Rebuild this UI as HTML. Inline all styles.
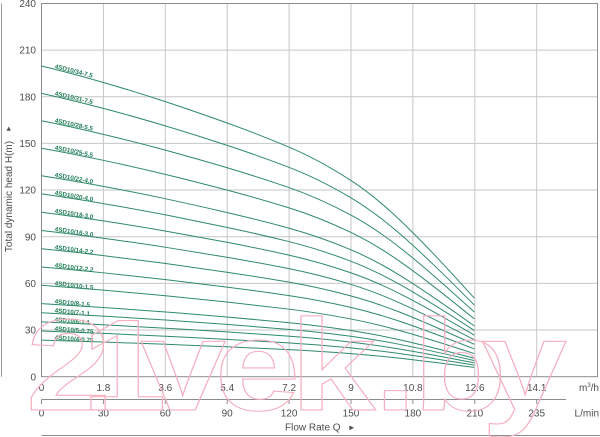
<!DOCTYPE html>
<html>
<head>
<meta charset="utf-8">
<style>
html,body{margin:0;padding:0;background:#fff;}
svg{display:block;}
.t{font-family:"Liberation Sans",sans-serif;font-size:10px;fill:#4d4d4d;}
.lb{font-family:"Liberation Sans",sans-serif;font-size:6.3px;font-weight:bold;fill:#1f7d55;}
</style>
</head>
<body>
<svg width="600" height="437" viewBox="0 0 600 437" xmlns="http://www.w3.org/2000/svg">
<rect width="600" height="437" fill="#fff"/>

<!-- grid -->
<g stroke="#c6c6c6" stroke-width="1" fill="none">
<line x1="103.4" y1="3.5" x2="103.4" y2="376.7"/>
<line x1="165.3" y1="3.5" x2="165.3" y2="376.7"/>
<line x1="227.2" y1="3.5" x2="227.2" y2="376.7"/>
<line x1="289.1" y1="3.5" x2="289.1" y2="376.7"/>
<line x1="351" y1="3.5" x2="351" y2="376.7"/>
<line x1="412.9" y1="3.5" x2="412.9" y2="376.7"/>
<line x1="474.8" y1="3.5" x2="474.8" y2="376.7"/>
<line x1="536.7" y1="3.5" x2="536.7" y2="376.7"/>
<line x1="41.5" y1="330.04" x2="597.5" y2="330.04"/>
<line x1="41.5" y1="283.38" x2="597.5" y2="283.38"/>
<line x1="41.5" y1="236.72" x2="597.5" y2="236.72"/>
<line x1="41.5" y1="190.06" x2="597.5" y2="190.06"/>
<line x1="41.5" y1="143.4" x2="597.5" y2="143.4"/>
<line x1="41.5" y1="96.74" x2="597.5" y2="96.74"/>
<line x1="41.5" y1="50.08" x2="597.5" y2="50.08"/>
</g>
<rect x="41.5" y="3.5" width="556" height="373.2" fill="none" stroke="#8c8c8c" stroke-width="1"/>

<!-- curves -->
<g fill="none" stroke="#2f8a6c" stroke-width="1">
<path d="M41.5,66 C62.1,70.94 82.7,76.5 103.3,82.47 C124.1,88.49 144.9,94.86 165.7,101.73 C186.07,108.44 206.43,115.53 226.8,122.86 C247.3,130.25 267.8,138.18 288.3,146.78 C309.1,155.51 329.9,166.82 350.7,180.34 C367.13,191.03 383.57,204.51 400,220.11 C424.77,243.63 449.53,270.84 474.3,298.09"/>
<path d="M41.5,93.4 C62.1,97.9 82.7,102.98 103.3,108.41 C124.1,113.91 144.9,119.72 165.7,125.98 C186.07,132.1 206.43,138.56 226.8,145.24 C247.3,151.99 267.8,159.21 288.3,167.06 C309.1,175.02 329.9,185.33 350.7,197.65 C367.13,207.4 383.57,219.7 400,233.92 C424.77,255.36 449.53,280.18 474.3,305.03"/>
<path d="M41.5,120.8 C62.1,124.87 82.7,129.45 103.3,134.36 C124.1,139.33 144.9,144.57 165.7,150.23 C186.07,155.76 206.43,161.59 226.8,167.63 C247.3,173.72 267.8,180.25 288.3,187.33 C309.1,194.52 329.9,203.84 350.7,214.97 C367.13,223.77 383.57,234.88 400,247.73 C424.77,267.1 449.53,289.52 474.3,311.96"/>
<path d="M41.5,148.2 C62.1,151.83 82.7,155.92 103.3,160.31 C124.1,164.74 144.9,169.43 165.7,174.48 C186.07,179.41 206.43,184.62 226.8,190.02 C247.3,195.45 267.8,201.28 288.3,207.61 C309.1,214.03 329.9,222.35 350.7,232.29 C367.13,240.15 383.57,250.07 400,261.54 C424.77,278.83 449.53,298.85 474.3,318.89"/>
<path d="M41.5,175.7 C62.1,178.9 82.7,182.49 103.3,186.35 C124.1,190.25 144.9,194.37 165.7,198.81 C186.07,203.16 206.43,207.74 226.8,212.48 C247.3,217.27 267.8,222.39 288.3,227.96 C309.1,233.61 329.9,240.92 350.7,249.67 C367.13,256.58 383.57,265.31 400,275.4 C424.77,290.61 449.53,308.22 474.3,325.85"/>
<path d="M41.5,193.9 C62.1,196.81 82.7,200.08 103.3,203.59 C124.1,207.13 144.9,210.88 165.7,214.92 C186.07,218.87 206.43,223.04 226.8,227.35 C247.3,231.7 267.8,236.36 288.3,241.43 C309.1,246.56 329.9,253.22 350.7,261.17 C367.13,267.46 383.57,275.39 400,284.57 C424.77,298.41 449.53,314.42 474.3,330.45"/>
<path d="M41.5,212.2 C62.1,214.82 82.7,217.76 103.3,220.92 C124.1,224.11 144.9,227.48 165.7,231.12 C186.07,234.67 206.43,238.42 226.8,242.3 C247.3,246.22 267.8,250.41 288.3,254.97 C309.1,259.59 329.9,265.58 350.7,272.74 C367.13,278.39 383.57,285.53 400,293.79 C424.77,306.24 449.53,320.65 474.3,335.08"/>
<path d="M41.5,230.5 C62.1,232.82 82.7,235.44 103.3,238.25 C124.1,241.09 144.9,244.08 165.7,247.31 C186.07,250.47 206.43,253.8 226.8,257.25 C247.3,260.73 267.8,264.46 288.3,268.51 C309.1,272.62 329.9,277.94 350.7,284.3 C367.13,289.33 383.57,295.68 400,303.02 C424.77,314.08 449.53,326.89 474.3,339.71"/>
<path d="M41.5,248.8 C62.1,250.83 82.7,253.12 103.3,255.58 C124.1,258.06 144.9,260.68 165.7,263.51 C186.07,266.27 206.43,269.19 226.8,272.21 C247.3,275.25 267.8,278.51 288.3,282.05 C309.1,285.65 329.9,290.3 350.7,295.87 C367.13,300.27 383.57,305.82 400,312.24 C424.77,321.92 449.53,333.12 474.3,344.34"/>
<path d="M41.5,267 C62.1,268.74 82.7,270.71 103.3,272.81 C124.1,274.94 144.9,277.19 165.7,279.62 C186.07,281.99 206.43,284.49 226.8,287.08 C247.3,289.69 267.8,292.48 288.3,295.52 C309.1,298.6 329.9,302.6 350.7,307.37 C367.13,311.14 383.57,315.9 400,321.41 C424.77,329.72 449.53,339.33 474.3,348.95"/>
<path d="M41.5,285.3 C62.1,286.75 82.7,288.39 103.3,290.14 C124.1,291.92 144.9,293.79 165.7,295.81 C186.07,297.79 206.43,299.87 226.8,302.03 C247.3,304.2 267.8,306.53 288.3,309.06 C309.1,311.63 329.9,314.96 350.7,318.94 C367.13,322.08 383.57,326.05 400,330.63 C424.77,337.55 449.53,345.56 474.3,353.58"/>
<path d="M41.5,303.6 C62.1,304.76 82.7,306.07 103.3,307.47 C124.1,308.89 144.9,310.39 165.7,312.01 C186.07,313.59 206.43,315.25 226.8,316.98 C247.3,318.72 267.8,320.58 288.3,322.61 C309.1,324.66 329.9,327.32 350.7,330.5 C367.13,333.02 383.57,336.19 400,339.86 C424.77,345.39 449.53,351.79 474.3,358.21"/>
<path d="M41.5,312.7 C62.1,313.72 82.7,314.86 103.3,316.09 C124.1,317.33 144.9,318.65 165.7,320.06 C186.07,321.44 206.43,322.9 226.8,324.41 C247.3,325.94 267.8,327.57 288.3,329.34 C309.1,331.14 329.9,333.47 350.7,336.25 C367.13,338.45 383.57,341.23 400,344.44 C424.77,349.29 449.53,354.9 474.3,360.51"/>
<path d="M41.5,321.9 C62.1,322.77 82.7,323.75 103.3,324.8 C124.1,325.87 144.9,326.99 165.7,328.2 C186.07,329.39 206.43,330.63 226.8,331.93 C247.3,333.23 267.8,334.63 288.3,336.15 C309.1,337.69 329.9,339.68 350.7,342.07 C367.13,343.95 383.57,346.33 400,349.08 C424.77,353.23 449.53,358.03 474.3,362.84"/>
<path d="M41.5,331 C62.1,331.73 82.7,332.54 103.3,333.42 C124.1,334.31 144.9,335.25 165.7,336.26 C186.07,337.24 206.43,338.29 226.8,339.36 C247.3,340.45 267.8,341.62 288.3,342.88 C309.1,344.17 329.9,345.83 350.7,347.82 C367.13,349.39 383.57,351.37 400,353.67 C424.77,357.13 449.53,361.13 474.3,365.14"/>
<path d="M41.5,340.1 C62.1,340.68 82.7,341.34 103.3,342.04 C124.1,342.75 144.9,343.5 165.7,344.31 C186.07,345.1 206.43,345.93 226.8,346.8 C247.3,347.67 267.8,348.6 288.3,349.62 C309.1,350.64 329.9,351.98 350.7,353.57 C367.13,354.83 383.57,356.42 400,358.25 C424.77,361.02 449.53,364.23 474.3,367.44"/>
</g>

<!-- curve labels -->
<g class="lb">
<text x="54.5" y="68.2" transform="rotate(14.3 54.5 68.2)">4SD10/34-7.5</text>
<text x="54.5" y="95.3" transform="rotate(13.3 54.5 95.3)">4SD10/31-7.5</text>
<text x="54.5" y="122.4" transform="rotate(12.4 54.5 122.4)">4SD10/28-5.5</text>
<text x="54.5" y="149.5" transform="rotate(11.4 54.5 149.5)">4SD10/25-5.5</text>
<text x="54.5" y="176.7" transform="rotate(10.4 54.5 176.7)">4SD10/22-4.0</text>
<text x="54.5" y="194.8" transform="rotate(9.8 54.5 194.8)">4SD10/20-4.0</text>
<text x="54.5" y="212.9" transform="rotate(9.1 54.5 212.9)">4SD10/18-3.0</text>
<text x="54.5" y="231.0" transform="rotate(8.5 54.5 231.0)">4SD10/16-3.0</text>
<text x="54.5" y="249.1" transform="rotate(7.8 54.5 249.1)">4SD10/14-2.2</text>
<text x="54.5" y="267.1" transform="rotate(7.2 54.5 267.1)">4SD10/12-2.2</text>
<text x="54.5" y="285.2" transform="rotate(6.5 54.5 285.2)">4SD10/10-1.5</text>
<text x="54.5" y="303.3" transform="rotate(5.8 54.5 303.3)">4SD10/8-1.5</text>
<text x="54.5" y="312.4" transform="rotate(5.5 54.5 312.4)">4SD10/7-1.1</text>
<text x="54.5" y="321.5" transform="rotate(5.1 54.5 321.5)">4SD10/6-1.1</text>
<text x="54.5" y="330.5" transform="rotate(4.8 54.5 330.5)">4SD10/5-0.75</text>
<text x="54.5" y="339.5" transform="rotate(4.5 54.5 339.5)">4SD10/4-0.75</text>
</g>

<!-- left bracket line -->
<line x1="1.5" y1="3.5" x2="1.5" y2="376.7" stroke="#9a9a9a" stroke-width="1"/>

<!-- y tick labels -->
<g class="t" text-anchor="end">
<text x="36" y="380.3">0</text>
<text x="36" y="333.6">30</text>
<text x="36" y="287">60</text>
<text x="36" y="240.3">90</text>
<text x="36" y="193.7">120</text>
<text x="36" y="147">150</text>
<text x="36" y="100.3">180</text>
<text x="36" y="53.7">210</text>
<text x="36" y="7">240</text>
</g>

<!-- y axis title -->
<text class="t" x="12" y="196.5" text-anchor="middle" transform="rotate(-90 12 196.5)">Total dynamic head H(m)</text>
<polygon points="8.7,126.5 6.5,130.8 10.9,130.8" fill="#4d4d4d"/>

<!-- x labels m3/h -->
<g class="t" text-anchor="middle">
<text x="41.5" y="390.8">0</text>
<text x="103.4" y="390.8">1.8</text>
<text x="165.3" y="390.8">3.6</text>
<text x="227.2" y="390.8">5.4</text>
<text x="289.1" y="390.8">7.2</text>
<text x="351" y="390.8">9</text>
<text x="412.9" y="390.8">10.8</text>
<text x="474.8" y="390.8">12.6</text>
<text x="536.7" y="390.8">14.1</text>
</g>
<text class="t" x="599" y="390.8" text-anchor="end">m<tspan font-size="6" dy="-4">3</tspan><tspan dy="4">/h</tspan></text>

<!-- L/min axis -->
<g stroke="#8c8c8c" stroke-width="1">
<line x1="41.5" y1="399.5" x2="566" y2="399.5"/>
<line x1="41.5" y1="399.5" x2="41.5" y2="404"/>
<line x1="103.4" y1="399.5" x2="103.4" y2="404"/>
<line x1="165.3" y1="399.5" x2="165.3" y2="404"/>
<line x1="227.2" y1="399.5" x2="227.2" y2="404"/>
<line x1="289.1" y1="399.5" x2="289.1" y2="404"/>
<line x1="351" y1="399.5" x2="351" y2="404"/>
<line x1="412.9" y1="399.5" x2="412.9" y2="404"/>
<line x1="474.8" y1="399.5" x2="474.8" y2="404"/>
<line x1="536.7" y1="399.5" x2="536.7" y2="404"/>
<line x1="41.5" y1="435.5" x2="600" y2="435.5"/>
</g>
<g class="t" text-anchor="middle">
<text x="41.5" y="416.3">0</text>
<text x="103.4" y="416.3">30</text>
<text x="165.3" y="416.3">60</text>
<text x="227.2" y="416.3">90</text>
<text x="289.1" y="416.3">120</text>
<text x="351" y="416.3">150</text>
<text x="412.9" y="416.3">180</text>
<text x="474.8" y="416.3">210</text>
<text x="536.7" y="416.3">235</text>
</g>
<text class="t" x="599" y="416.3" text-anchor="end">L/min</text>

<text class="t" x="285" y="430.5">Flow Rate Q</text>
<polygon points="349.3,425.5 349.3,430.2 354,427.8" fill="#4d4d4d"/>

<!-- watermark -->
<g transform="scale(1.18,1)">
<text x="22 69 119 182 246 317 350 408" y="410" font-family="Liberation Sans, sans-serif" font-weight="bold" font-size="130" fill="none" stroke="#f5afbf" stroke-width="1.1">21vek.by</text>
</g>
</svg>
</body>
</html>
